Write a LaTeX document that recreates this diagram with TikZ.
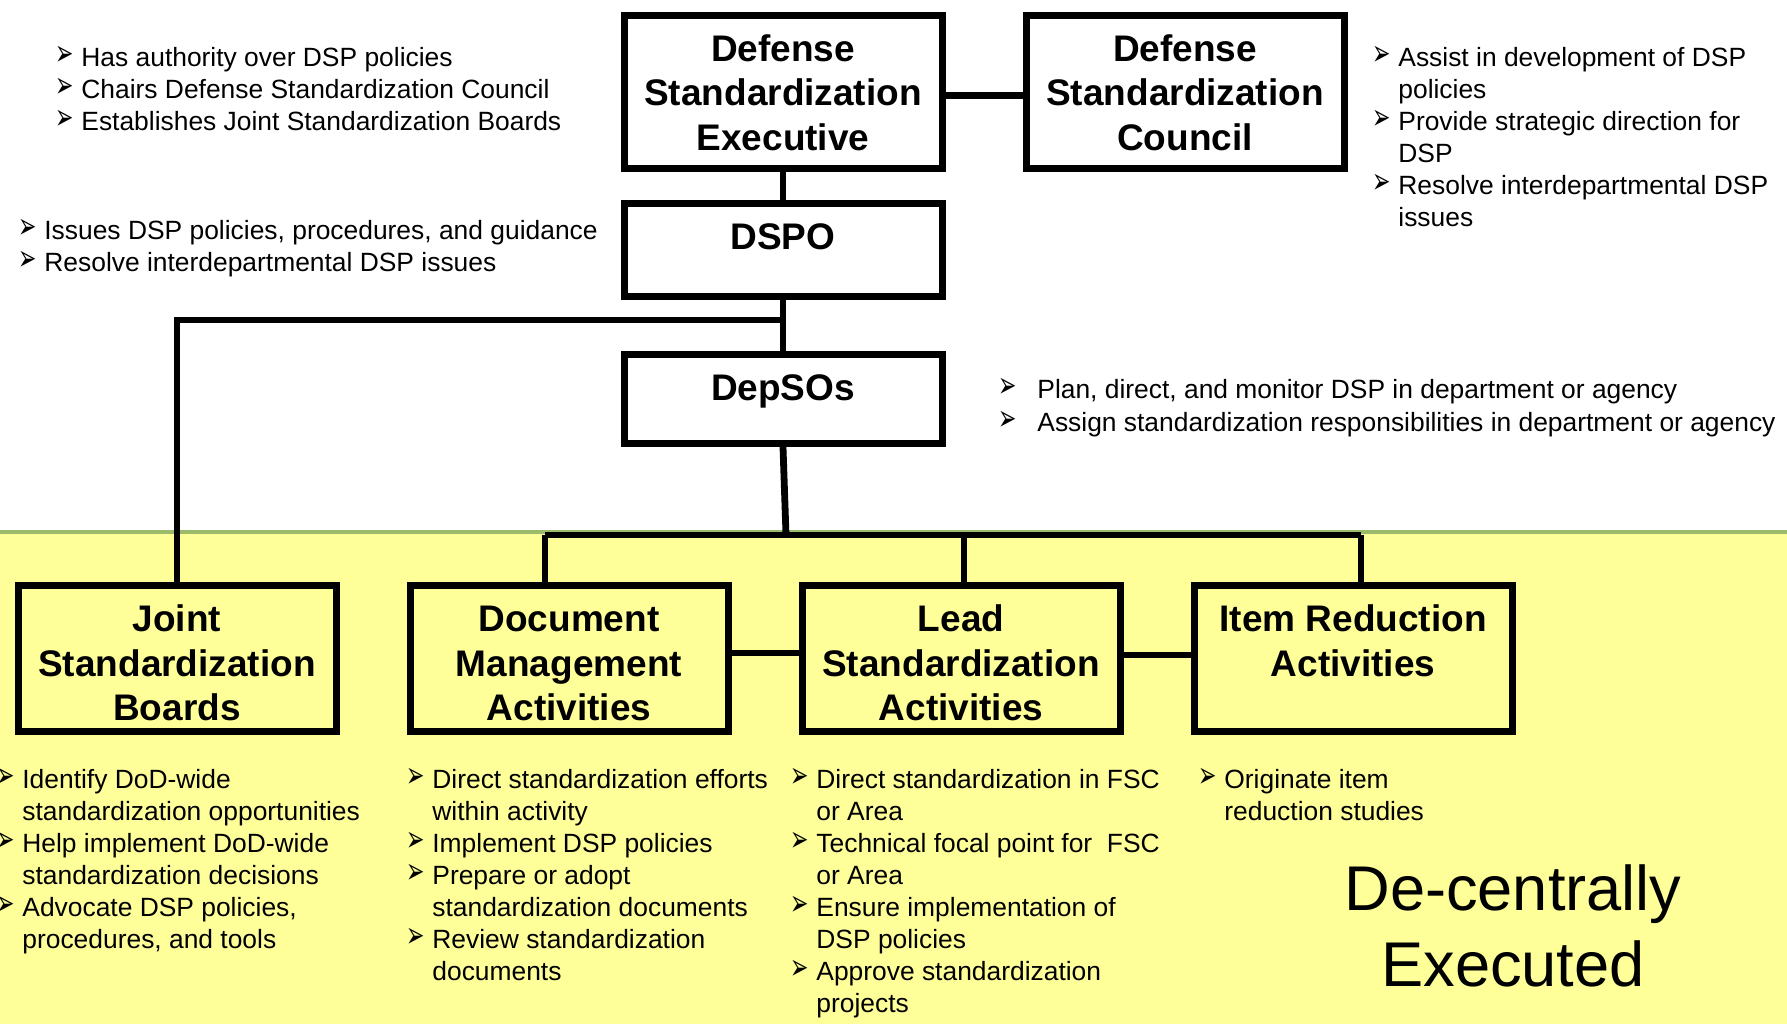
\documentclass[tikz,border=0pt]{standalone}
\usepackage{graphicx}
\usepackage{fontspec}
\setmainfont{Liberation Sans}
\newfontfamily\arrowfont{DejaVu Sans}

\definecolor{splitgreen}{RGB}{155,187,107}
\definecolor{lowyellow}{RGB}{255,255,153}

\newlength\unitpx
\setlength{\unitpx}{0.5pt}
\newcommand{\boxtxt}[2]{\parbox[c][#1\unitpx][t]{318\unitpx}{\centering\vspace*{7.4pt}\strut#2}}
\newcommand{\itm}[1][13pt]{\makebox[#1][l]{\raisebox{0.4pt}{\resizebox{9.2pt}{9.6pt}{\arrowfont ➢}}}}
\newcommand{\ind}[1][13pt]{\hspace*{#1}}

\tikzset{
	orgbox/.style={draw, line width=3.5pt, inner sep=0pt, fill=white, font=\bfseries\fontsize{18.5pt}{22.3pt}\selectfont},
	lowbox/.style={orgbox, fill=lowyellow},
	link/.style={line width=3.4pt},
	notes/.style={anchor=base west, inner sep=0pt, font=\fontsize{13.2pt}{16pt}\selectfont},
}

\begin{document}
\begin{tikzpicture}[x=0.5pt,y=-0.5pt]
	\useasboundingbox (0,0) rectangle (1787,1024);
	% background
	\fill [lowyellow] (0,532) rectangle (1787,1024);
	\draw [splitgreen, line width=2pt] (0,532) -- (1787,532);
	
	% boxes
	\node [orgbox] (dse) at (783,91.5) {\boxtxt{153}{Defense\\Standardization\\Executive}};
	\node [orgbox] (dsc) at (1185,91.5) {\boxtxt{153}{Defense\\Standardization\\Council}};
	\node [orgbox] (dspo) at (783,249.5) {\boxtxt{93}{DSPO}};
	\node [orgbox] (depsos) at (783,399) {\boxtxt{89}{DepSOs}};
	\node [lowbox] (jsb) at (177,658.5) {\boxtxt{146}{Joint\\Standardization\\Boards}};
	\node [lowbox] (dma) at (569,658.5) {\boxtxt{146}{Document\\Management\\Activities}};
	\node [lowbox] (lsa) at (961,658.5) {\boxtxt{146}{Lead\\Standardization\\Activities}};
	\node [lowbox] (ira) at (1353,658.5) {\boxtxt{146}{Item Reduction\\Activities}};
	
	% connectors
	\coordinate (jn) at (785,320);
	\coordinate (busl) at (545,535);
	\coordinate (busm) at (786,535);
	\coordinate (busc) at (964,535);
	\coordinate (busr) at (1361,535);
	\draw [link] ([yshift=-2pt]dse.east) -- ([yshift=-2pt]dsc.west);
	\draw [link] (dse.south) -- (dspo.north);
	\draw [link] (dspo.south) -- (depsos.north);
	\draw [link] (jn) -| (jsb.north);
	\draw [link] (depsos.south) -- (busm);
	\draw [link] (busl) -- (busr);
	\draw [link] (busl) -- (busl |- dma.north);
	\draw [link] (busc) -- (busc |- lsa.north);
	\draw [link] (busr) -- (busr |- ira.north);
	\draw [link] ([yshift=2.75pt]dma.east) -- ([yshift=2.75pt]lsa.west);
	\draw [link] ([yshift=1.75pt]lsa.east) -- ([yshift=1.75pt]ira.west);
	
	% notes
	\node [notes] (dsenotes) at (55,66.5) {\parbox[t]{300pt}{\itm Has authority over DSP policies\\ \itm Chairs Defense Standardization Council\\ \itm Establishes Joint Standardization Boards}};
	\node [notes] (dsponotes) at (18,239.7) {\parbox[t]{300pt}{\itm Issues DSP policies, procedures, and guidance\\ \itm Resolve interdepartmental DSP issues}};
	\node [notes] (dscnotes) at (1372,66.5) {\parbox[t]{220pt}{\itm Assist in development of DSP\\ \ind policies\\ \itm Provide strategic direction for\\ \ind DSP\\ \itm Resolve interdepartmental DSP\\ \ind issues}};
	\node [notes] (depsosnotes) at (998,398) {\parbox[t]{400pt}{\itm[19.5pt]Plan, direct, and monitor DSP in department or agency\\[0.5pt] \itm[19.5pt]Assign standardization responsibilities in department or agency}};
	\node [notes] (jsbnotes) at (-4,788) {\parbox[t]{200pt}{\itm Identify DoD-wide\\ \ind standardization opportunities\\ \itm Help implement DoD-wide\\ \ind standardization decisions\\ \itm Advocate DSP policies,\\ \ind procedures, and tools}};
	\node [notes] (dmanotes) at (406,788) {\parbox[t]{200pt}{\itm Direct standardization efforts\\ \ind within activity\\ \itm Implement DSP policies\\ \itm Prepare or adopt\\ \ind standardization documents\\ \itm Review standardization\\ \ind documents}};
	\node [notes] (lsanotes) at (790,788) {\parbox[t]{200pt}{\itm Direct standardization in FSC\\ \ind or Area\\ \itm Technical focal point for~ FSC\\ \ind or Area\\ \itm Ensure implementation of\\ \ind DSP policies\\ \itm Approve standardization\\ \ind projects}};
	\node [notes] (iranotes) at (1198,788) {\parbox[t]{200pt}{\itm Originate item\\ \ind reduction studies}};
	
	\node [anchor=base, inner sep=0pt, font=\fontsize{31.6pt}{38pt}\selectfont] (motto) at (1513,910) {\parbox[t]{250pt}{\centering De-centrally\\ Executed}};
\end{tikzpicture}
\end{document}
